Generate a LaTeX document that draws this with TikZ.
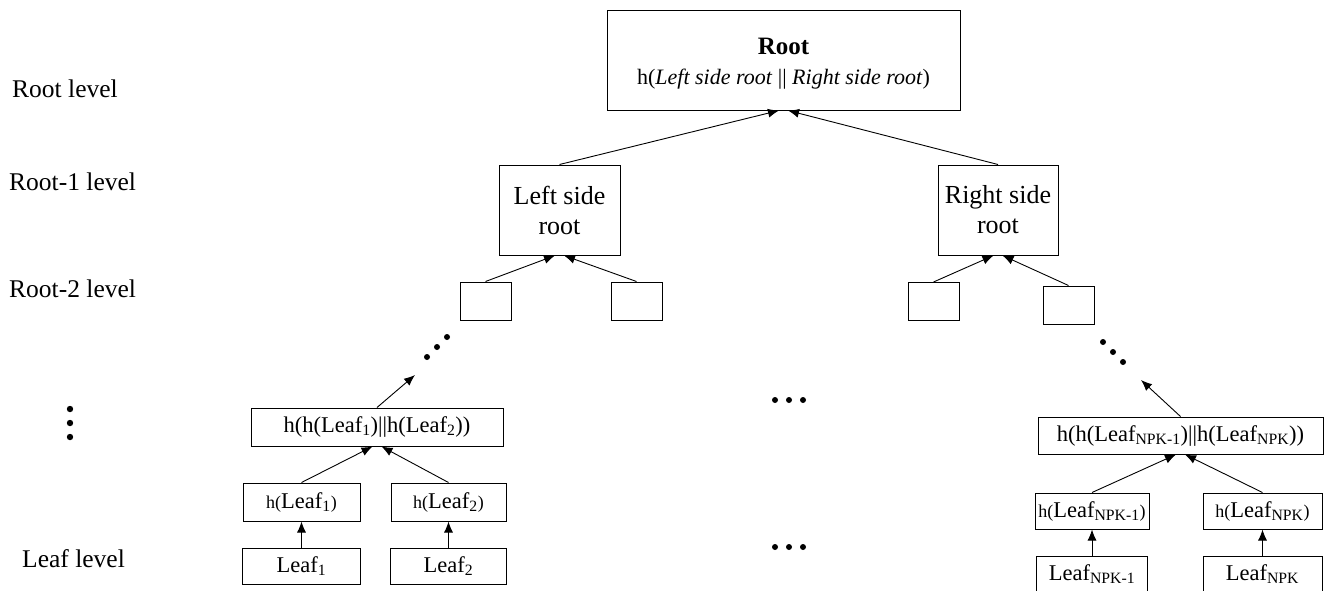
\documentclass[tikz,border=0pt]{standalone}
\usepackage{fontspec}
\setmainfont{Liberation Serif}
\usetikzlibrary{arrows.meta,positioning}
\newcommand{\lvlfont}{\fontsize{25.5}{30}\selectfont}
\newcommand{\sidefont}{\fontsize{26}{30}\selectfont}
\newcommand{\leaffont}{\fontsize{22.5}{27}\selectfont}
\newcommand{\hfont}{\fontsize{18}{21}\selectfont}
\newcommand{\hleaf}[1]{{\hfont h(}Leaf\textsubscript{#1}{\hfont )}}

\begin{document}
\begin{tikzpicture}[x=1pt,y=-1pt,
    box/.style={draw,line width=1pt,inner sep=0pt,align=center},
    lbox/.style={box,font=\leaffont,minimum height=37pt},
    arrow/.style={-{Latex[length=11pt,width=9pt]},line width=0.9pt},
    lvl/.style={anchor=base west,inner sep=0pt,font=\lvlfont}
  ]
  \useasboundingbox (0,0) rectangle (1325,590);

  % level labels
  \node[lvl] (lvroot) at (12,97) {Root level};
  \node[lvl] (lvone) at (9,190) {Root-1 level};
  \node[lvl] (lvtwo) at (9,297) {Root-2 level};
  \node[lvl] (lvleaf) at (22,567) {Leaf level};
  \foreach \y in {409,423,437} \fill (70,\y) circle (3.2pt);

  % upper part of the tree
  \node[box,minimum width=353pt,minimum height=100pt,font=\fontsize{22}{30}\selectfont] (root) at (783.5,60)
    {\rule{0pt}{23pt}{\fontsize{25}{30}\selectfont\bfseries Root}\\h(\textit{Left side root} || \textit{Right side root})};
  \node[box,font=\sidefont,minimum width=121pt,minimum height=90pt] (lroot) at (559.5,210) {Left side\\root};
  \node[box,font=\sidefont,minimum width=120pt,minimum height=90pt] (rroot) at (998,210) {Right side\\root};
  \node[box,minimum width=51pt,minimum height=38pt] (l1) at (485.5,301) {};
  \node[box,minimum width=51pt,minimum height=38pt] (l2) at (636.5,301) {};
  \node[box,minimum width=51pt,minimum height=38pt] (r1) at (933.5,301.5) {};
  \node[box,minimum width=51pt,minimum height=38pt] (r2) at (1068.5,305) {};

  \draw[arrow] (lroot.north) -- ([xshift=-4.5pt]root.south);
  \draw[arrow] (rroot.north) -- ([xshift=4.5pt]root.south);
  \draw[arrow] (l1.north) -- ([xshift=-4.5pt]lroot.south);
  \draw[arrow] (l2.north) -- ([xshift=4.5pt]lroot.south);
  \draw[arrow] (r1.north) -- ([xshift=-4.5pt]rroot.south);
  \draw[arrow] (r2.north) -- ([xshift=4.5pt]rroot.south);

  % left leaves
  \node[lbox,minimum width=252pt,minimum height=38pt] (hh12) at (377,427)
    {h(h(Leaf\textsubscript{1})||h(Leaf\textsubscript{2}))};
  \node[lbox,minimum width=117pt,minimum height=38pt] (h1) at (301.5,502) {\hleaf{1}};
  \node[lbox,minimum width=115pt,minimum height=38pt] (h2) at (448.5,502) {\hleaf{2}};
  \node[lbox,minimum width=118pt,minimum height=36pt,below=26pt of h1] (leaf1) {Leaf\textsubscript{1}};
  \node[lbox,minimum width=116pt,minimum height=36pt,below=26pt of h2] (leaf2) {Leaf\textsubscript{2}};
  \coordinate (lup) at (415,375);

  \draw[arrow] (leaf1) -- (h1);
  \draw[arrow] (leaf2) -- (h2);
  \draw[arrow] (h1.north) -- ([xshift=-4.5pt]hh12.south);
  \draw[arrow] (h2.north) -- ([xshift=4.5pt]hh12.south);
  \draw[arrow] (hh12.north) -- (lup);
  \foreach \x/\y in {427/357,437/347,447/337} \fill (\x,\y) circle (3pt);

  % right leaves
  \node[lbox,minimum width=285pt] (hhnpk) at (1180.5,435.5)
    {h(h(Leaf\textsubscript{NPK-1})||h(Leaf\textsubscript{NPK}))};
  \node[lbox,minimum width=114pt,minimum height=36pt] (hn1) at (1092,511) {\hleaf{NPK-1}};
  \node[lbox,minimum width=119pt,minimum height=36pt] (hn2) at (1262.5,511) {\hleaf{NPK}};
  \node[lbox,minimum width=111pt,minimum height=36pt,below=26pt of hn1] (leafn1) {Leaf\textsubscript{NPK-1}};
  \node[lbox,minimum width=119pt,minimum height=36pt,below=26pt of hn2] (leafn2) {Leaf\textsubscript{NPK}};
  \coordinate (rup) at (1141,380);

  \draw[arrow] (leafn1) -- (hn1);
  \draw[arrow] (leafn2) -- (hn2);
  \draw[arrow] (hn1.north) -- ([xshift=-4.5pt]hhnpk.south);
  \draw[arrow] (hn2.north) -- ([xshift=4.5pt]hhnpk.south);
  \draw[arrow] (hhnpk.north) -- (rup);
  \foreach \x/\y in {1103/342,1113/352,1123/362} \fill (\x,\y) circle (3pt);

  % dots in the middle
  \foreach \x in {775,789,803} {
    \fill (\x,400) circle (3pt);
    \fill (\x,547) circle (3pt);
  }
\end{tikzpicture}
\end{document}
